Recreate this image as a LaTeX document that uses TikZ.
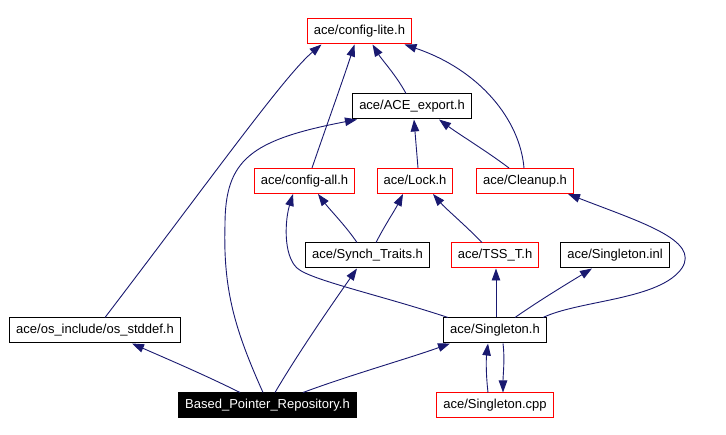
\documentclass[tikz,border=0pt]{standalone}
\usepackage{fontspec}
\setmainfont{Liberation Sans}
\usepackage{tikz}
\usetikzlibrary{arrows.meta}
\usepackage{xcolor}
\definecolor{edgeblue}{RGB}{25,25,112}
\definecolor{hdrred}{RGB}{255,0,0}

\tikzset{
    file/.style={draw=black,line width=1pt,inner xsep=6.5pt,inner ysep=0pt,
        minimum height=25pt,text height=9.5pt,text depth=2.7pt,font=\fontsize{13}{15}\selectfont},
    redfile/.style={file,draw=hdrred},
    mainfile/.style={file,fill=black,text=white},
    edge/.style={draw=edgeblue,line width=0.9pt,-{Triangle[length=12pt,width=8.5pt]}}
}

\begin{document}
\begin{tikzpicture}[x=1pt,y=-1pt]
    \useasboundingbox (0,0) rectangle (726,435);
    % headers
    \node[redfile] (cfglite) at (359.5,31.5) {ace/config-lite.h};
    \node[file] (aceexport) at (412,106.5) {ace/ACE\_export.h};
    \node[redfile] (cfgall) at (304.5,181) {ace/config-all.h};
    \node[redfile] (lock) at (415,181) {ace/Lock.h};
    \node[redfile] (cleanup) at (525,181) {ace/Cleanup.h};
    \node[file] (synch) at (367.5,255.5) {ace/Synch\_Traits.h};
    \node[redfile] (tsst) at (495,255.5) {ace/TSS\_T.h};
    \node[file] (sinl) at (615,255.5) {ace/Singleton.inl};
    \node[file] (osstd) at (95,330.5) {ace/os\_include/os\_stddef.h};
    \node[file] (sgh) at (495,330.5) {ace/Singleton.h};
    \node[mainfile] (bpr) at (267.5,405.5) {Based\_Pointer\_Repository.h};
    \node[redfile] (scpp) at (495,405.5) {ace/Singleton.cpp};

    % includes of config-lite.h
    \draw[edge] ([xshift=10pt]osstd.north) .. controls (210,180) and (285,75) .. ([xshift=-38pt]cfglite.south);
    \draw[edge] ([xshift=7.5pt]cfgall.north) .. controls (325,130) and (343,80) .. ([xshift=-5pt]cfglite.south);
    \draw[edge] ([xshift=-6pt]aceexport.north) .. controls (396,75) and (382,60) .. ([xshift=13pt]cfglite.south);
    \draw[edge] ([xshift=-1pt]cleanup.north) .. controls (520,120) and (480,70) .. ([xshift=45pt]cfglite.south);

    % includes of ACE_export.h
    \draw[edge] ([xshift=-4.5pt]bpr.north) .. controls (235,330) and (223,290) .. (225,225)
        .. controls (225,160) and (250,140) .. ([xshift=-55pt]aceexport.south);
    \draw[edge] ([xshift=3pt]lock.north) -- ([xshift=2pt]aceexport.south);
    \draw[edge] ([xshift=-16pt]cleanup.north) .. controls (485,150) and (460,135) .. ([xshift=27pt]aceexport.south);

    % third row
    \draw[edge] ([xshift=-10.5pt]synch.north) .. controls (345,225) and (330,210) .. ([xshift=13.5pt]cfgall.south);
    \draw[edge] ([xshift=8.5pt]synch.north) .. controls (385,225) and (395,210) .. ([xshift=-12pt]lock.south);
    \draw[edge] ([xshift=-13pt]tsst.north) .. controls (465,225) and (445,208) .. ([xshift=18pt]lock.south);

    % includes of Singleton.h
    \draw[edge] ([xshift=-47pt]sgh.north) .. controls (380,295) and (310,280) .. (297,268)
        .. controls (283,255) and (285,220) .. ([xshift=-11.5pt]cfgall.south);
    \draw[edge] ([xshift=48pt]sgh.north) .. controls (580,300) and (660,300) .. (682,268)
        .. controls (700,240) and (640,222) .. ([xshift=43pt]cleanup.south);
    \draw[edge] ([xshift=1pt]sgh.north) -- ([xshift=1pt]tsst.south);
    \draw[edge] ([xshift=20pt]sgh.north) .. controls (540,300) and (570,282) .. ([xshift=-23pt]sinl.south);
    \draw[edge] ([xshift=8pt]sgh.south) .. controls (505,360) and (503,375) .. ([xshift=8pt]scpp.north);
    \draw[edge] ([xshift=-7pt]scpp.north) .. controls (486,375) and (486,360) .. ([xshift=-7pt]sgh.south);

    % includes of Based_Pointer_Repository.h
    \draw[edge] ([xshift=-27.5pt]bpr.north) .. controls (205,375) and (165,358) .. ([xshift=37pt]osstd.south);
    \draw[edge] ([xshift=7.5pt]bpr.north) .. controls (300,350) and (335,300) .. ([xshift=-10.5pt]synch.south);
    \draw[edge] ([xshift=35.5pt]bpr.north) .. controls (350,375) and (410,358) .. ([xshift=-45pt]sgh.south);
\end{tikzpicture}
\end{document}
